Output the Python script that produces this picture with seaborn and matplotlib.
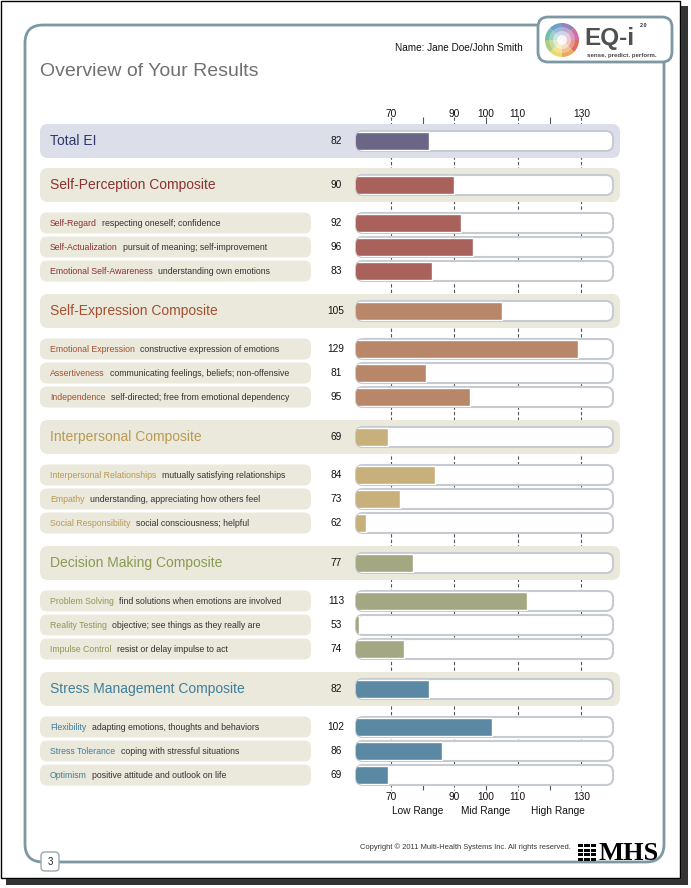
import numpy as np
import pandas as pd
import matplotlib.pyplot as plt
import seaborn as sns
from matplotlib.patches import FancyBboxPatch, Rectangle, Wedge, Circle
from matplotlib.transforms import blended_transform_factory

# ---- data ----
total_label = "Total EI"
total_score = 82

composites = ["Self-Perception Composite", "Self-Expression Composite",
              "Interpersonal Composite", "Decision Making Composite",
              "Stress Management Composite"]
composite_scores = [90, 105, 69, 77, 82]

subscales = [
    ["Self-Regard", "Self-Actualization", "Emotional Self-Awareness"],
    ["Emotional Expression", "Assertiveness", "Independence"],
    ["Interpersonal Relationships", "Empathy", "Social Responsibility"],
    ["Problem Solving", "Reality Testing", "Impulse Control"],
    ["Flexibility", "Stress Tolerance", "Optimism"],
]
descriptions = [
    ["respecting oneself; confidence", "pursuit of meaning; self-improvement",
     "understanding own emotions"],
    ["constructive expression of emotions", "communicating feelings, beliefs; non-offensive",
     "self-directed; free from emotional dependency"],
    ["mutually satisfying relationships", "understanding, appreciating how others feel",
     "social consciousness; helpful"],
    ["find solutions when emotions are involved", "objective; see things as they really are",
     "resist or delay impulse to act"],
    ["adapting emotions, thoughts and behaviors", "coping with stressful situations",
     "positive attitude and outlook on life"],
]
subscale_scores = [[92, 96, 83], [129, 81, 95], [84, 73, 62], [113, 53, 74], [102, 86, 69]]

tick_labels = [70, 90, 100, 110, 130]
range_labels = ["Low Range", "Mid Range", "High Range"]

groups = [total_label] + composites
bar_colors = ["#6b6586", "#a8625b", "#b8876a", "#c8b07c", "#a3a882", "#5b88a2"]
text_colors = ["#2e3868", "#8c3232", "#a4502f", "#b89a52", "#8a9a52", "#3d7f9a"]
palette = dict(zip(groups, bar_colors))
txt_col = dict(zip(groups, text_colors))

# ---- build table of rows ----
rows = [dict(label=total_label, desc="", score=total_score, group=total_label,
             kind="total", y=141)]
for k, comp in enumerate(composites):
    yc = 185 + 126 * k
    rows.append(dict(label=comp, desc="", score=composite_scores[k], group=comp,
                     kind="composite", y=yc))
    for j in range(3):
        rows.append(dict(label=subscales[k][j], desc=descriptions[k][j],
                         score=subscale_scores[k][j], group=comp, kind="sub",
                         y=yc + 38 + 24 * j))
df = pd.DataFrame(rows)
df["shown"] = df["score"].clip(lower=60)

sns.set_theme(style="white")
plt.rcParams["font.family"] = ["Liberation Sans", "DejaVu Sans"]

fig = plt.figure(figsize=(6.91, 8.88), dpi=100)
ax = fig.add_axes([0, 0, 1, 1])
ax.set_xlim(0, 691)
ax.set_ylim(888, 0)
ax.axis("off")

axb = fig.add_axes([356 / 691, 0, 257 / 691, 1])
axb.set_zorder(2)

sns.barplot(data=df, x="shown", y="y", hue="group", hue_order=groups, palette=palette,
            orient="y", native_scale=True, dodge=False, width=0.75, errorbar=None,
            saturation=1, legend=False, ax=axb)
axb.set_xlim(59, 140)
axb.set_ylim(888, 0)
axb.axis("off")

tr = blended_transform_factory(axb.transData, ax.transData)

# grid ticks behind the panels
ax.vlines([70, 90, 110, 130], 117, 790, transform=tr, colors="#555555",
          linestyles=(0, (3, 2)), lw=0.8, zorder=1)
ax.vlines([80, 100, 120], 117, 124, transform=tr, colors="#555555", lw=0.8, zorder=1)
ax.vlines([80, 100, 120], 782, 790, transform=tr, colors="#555555", lw=0.8, zorder=1)

for t in tick_labels:
    axb.text(t, 114, str(t), ha="center", va="center", fontsize=7.3, color="#111")
    axb.text(t, 797, str(t), ha="center", va="center", fontsize=7.3, color="#111")
for lab, xpos in zip(range_labels, [78.5, 100, 122.5]):
    axb.text(xpos, 811, lab, ha="center", va="center", fontsize=7.3, color="#111")

# panels, tracks and labels
tracks = {}
for _, r in df.iterrows():
    y = r["y"]
    if r["kind"] in ("total", "composite"):
        fc = "#dcdeea" if r["kind"] == "total" else "#ebe8dc"
        ax.add_patch(FancyBboxPatch((40, y - 17), 580, 34,
                                    boxstyle="round,pad=0,rounding_size=8",
                                    fc=fc, ec="none", zorder=2))
        ax.text(50, y, r["label"], fontsize=10, color=txt_col[r["group"]],
                va="center", zorder=4)
    else:
        ax.add_patch(FancyBboxPatch((40, y - 10.5), 271, 21,
                                    boxstyle="round,pad=0,rounding_size=7",
                                    fc="#ebe8dc", ec="none", zorder=2))
        t = ax.text(50, y, r["label"], fontsize=6.3, color=txt_col[r["group"]],
                    va="center", zorder=4)
        ax.annotate(r["desc"], xy=(1, 0.5), xycoords=t, xytext=(4, 0),
                    textcoords="offset points", va="center", fontsize=6.3,
                    color="#333333", zorder=4)
    ax.text(336, y, str(r["score"]), ha="center", va="center", fontsize=7.3,
            color="#111", zorder=4)
    tr_patch = FancyBboxPatch((356, y - 10), 257, 20,
                              boxstyle="round,pad=0,rounding_size=7",
                              fc="white", ec="#c6cad1", lw=1.5, zorder=3)
    ax.add_patch(tr_patch)
    tracks[y] = tr_patch

keys = np.array(list(tracks.keys()))
for rect in axb.patches:
    cy = rect.get_y() + rect.get_height() / 2
    rect.set_clip_path(tracks[keys[np.argmin(np.abs(keys - cy))]])

# page decoration
ax.text(40, 72, "Overview of Your Results", fontsize=14, color="#707070", va="center")
ax.text(395, 48, "Name: Jane Doe/John Smith", fontsize=7.2, va="center", color="#111")

frame_c = "#7d98a3"
ax.add_patch(FancyBboxPatch((25, 25), 639, 837, boxstyle="round,pad=0,rounding_size=18",
                            fc="none", ec=frame_c, lw=2, zorder=0))
ax.add_patch(FancyBboxPatch((538, 17), 134, 45, boxstyle="round,pad=0,rounding_size=10",
                            fc="white", ec=frame_c, lw=2, zorder=5))
ax.add_patch(FancyBboxPatch((41, 852), 18, 19, boxstyle="round,pad=0,rounding_size=4",
                            fc="white", ec="#9aa8ae", lw=1, zorder=5))
ax.text(50, 862, "3", ha="center", va="center", fontsize=7, zorder=6)

wheel = ["#d9473a", "#e8913a", "#e9cf4a", "#97c25a", "#4fae9e", "#4a86bf", "#7a64a6", "#bf4f8f"]
for i, c in enumerate(wheel):
    ax.add_patch(Wedge((562, 40), 17, i * 45, (i + 1) * 45, fc=c, ec="none",
                       alpha=0.8, zorder=6))
for rr, a in [(13, 0.3), (9, 0.45), (5, 0.8)]:
    ax.add_patch(Circle((562, 40), rr, fc="white", ec="none", alpha=a, zorder=7))
ax.text(584, 39, "EQ-i", fontsize=17.5, fontweight="bold", color="#505050",
        va="center", zorder=7)
ax.text(640, 27, "2.0", fontsize=4, fontweight="bold", color="#333", zorder=7)
ax.text(587, 55, "sense. predict. perform.", fontsize=4.4, fontweight="bold",
        color="#444", va="center", zorder=7)

ax.text(360, 847, "Copyright \u00a9 2011 Multi-Health Systems Inc. All rights reserved.",
        fontsize=5.4, color="#333", va="center")
for i in range(4):
    for j in range(3):
        ax.add_patch(Rectangle((578 + j * 6.5, 844 + i * 4.6), 5.5, 3.2, fc="black",
                               ec="none"))
ax.text(599, 853, "MHS", fontsize=19, fontweight="bold", family="Liberation Serif",
        va="center", color="black")

# outer page edge with shadow
ax.add_patch(Rectangle((1, 1), 679, 877, fill=False, ec="black", lw=1, zorder=8))
ax.add_patch(Rectangle((681, 6), 7, 878, fc="#333333", ec="none", zorder=8))
ax.add_patch(Rectangle((6, 879), 682, 6, fc="#333333", ec="none", zorder=8))

fig.savefig("out.png", dpi=100, facecolor="white")
